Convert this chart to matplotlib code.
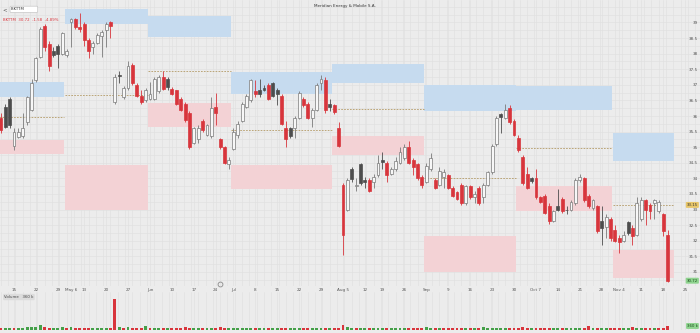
import matplotlib.pyplot as plt
import matplotlib.transforms as mtransforms
from matplotlib.ticker import MultipleLocator
import numpy as np
import pandas as pd

# sessions missing from the feed
missing_days = ['2024-05-01', '2024-05-03', '2024-05-09', '2024-05-10',
                '2024-06-28', '2024-08-15', '2024-10-31']

# daily OHLC, 2024-04-10 .. 2024-11-19
opens = [35.95, 36.30, 36.55, 35.05, 35.34, 35.35, 35.80, 36.20, 37.15, 37.90, 38.90, 38.30, 38.10, 38.25, 38.00,
         37.95, 39.00, 39.10, 38.85, 38.95, 38.45, 38.20, 38.35, 38.55, 38.75, 39.00, 36.45, 37.32, 36.60, 36.90,
         37.65, 37.00, 36.65, 36.50,
         36.55, 36.55, 36.80, 37.25, 37.20, 36.88, 36.82, 36.55, 36.40, 36.10, 35.15, 35.25, 35.85, 35.40, 35.35,
         36.30, 35.25, 35.00, 34.45,
         34.95, 35.40, 35.85, 36.30, 36.50, 36.80, 36.85, 36.90, 37.00, 37.05, 36.85, 36.65, 35.60, 35.60, 35.60,
         35.95, 36.55, 36.40, 35.95, 36.20, 37.05, 37.15, 36.40,
         36.35, 35.60, 33.80, 33.00, 34.30, 33.75, 34.45, 33.95, 33.95, 33.90, 34.10, 34.60, 34.50, 34.15, 34.30,
         34.50, 34.65, 35.00, 34.60, 34.45, 34.05,
         33.90, 34.30, 33.95, 33.80, 34.05, 34.10, 33.70, 33.55, 33.80, 33.20, 33.75, 33.40, 33.70, 33.40, 33.80,
         34.20, 35.10, 36.05, 35.95, 36.25, 35.85,
         35.30, 34.70, 34.15, 34.00, 34.00, 33.40, 33.45, 33.10, 32.65, 33.10, 33.35, 33.00, 33.00, 33.20, 33.95,
         34.00, 33.45, 33.05, 33.10, 32.65, 32.45, 32.70,
         32.35, 32.10, 32.00, 32.60, 32.40, 32.20, 32.70, 33.30, 33.15, 33.20, 32.95, 32.85, 32.20]
highs = [36.10, 36.40, 36.60, 35.60, 35.60, 36.10, 36.65, 37.20, 37.90, 38.85, 38.95, 38.40, 38.20, 38.30, 38.70,
         38.15, 39.15, 39.15, 39.30, 39.00, 38.50, 38.40, 38.65, 38.75, 39.00, 39.05, 37.35, 37.45, 36.95, 37.75,
         37.70, 37.05, 36.85, 36.90,
         37.10, 37.25, 37.30, 37.45, 37.25, 36.92, 36.85, 36.60, 36.45, 36.15, 35.65, 35.70, 35.90, 35.75, 36.60,
         36.75, 35.30, 35.05, 34.70,
         35.60, 35.85, 36.45, 36.70, 37.20, 37.15, 37.20, 37.00, 37.05, 37.10, 36.90, 36.70, 35.85, 35.65, 36.00,
         36.80, 36.60, 36.45, 36.25, 37.05, 37.30, 37.25, 36.55,
         36.40, 35.80, 33.85, 34.00, 34.35, 34.00, 34.50, 34.05, 34.00, 34.15, 34.75, 34.85, 34.55, 34.35, 34.70,
         35.00, 35.10, 35.20, 34.65, 34.50, 34.10,
         34.50, 34.80, 34.00, 34.35, 34.30, 34.15, 33.75, 33.60, 33.85, 33.80, 33.80, 33.60, 33.75, 33.85, 34.25,
         35.10, 36.00, 36.10, 36.40, 36.35, 35.90,
         35.40, 34.75, 34.35, 34.05, 34.30, 33.45, 33.50, 33.20, 33.00, 33.65, 33.40, 33.10, 33.30, 34.00, 34.15,
         34.05, 33.50, 33.35, 33.15, 33.10, 32.85, 32.75,
         32.50, 32.20, 32.30, 32.65, 32.50, 33.40, 33.40, 33.35, 33.20, 33.35, 33.30, 32.90, 32.35]
lows = [35.45, 35.60, 35.60, 34.90, 35.30, 35.30, 35.70, 36.15, 37.10, 37.85, 38.10, 37.45, 37.90, 37.55, 37.95,
        37.90, 38.20, 38.80, 38.68, 38.25, 37.85, 38.00, 38.30, 37.90, 38.20, 38.50, 36.40, 37.05, 36.55, 36.85,
        37.00, 36.60, 36.40, 36.45,
        36.50, 36.50, 36.75, 36.85, 36.85, 36.68, 36.35, 36.15, 35.80, 34.95, 35.10, 35.15, 35.50, 35.35, 35.30,
        35.70, 34.95, 34.45, 34.30,
        34.90, 35.30, 35.80, 36.25, 36.45, 36.60, 36.62, 36.80, 36.50, 36.60, 36.35, 35.70, 35.00, 35.30, 35.30,
        35.90, 36.30, 35.90, 35.65, 36.15, 36.85, 36.10, 36.15,
        36.05, 35.00, 31.55, 32.95, 33.90, 33.60, 33.80, 33.70, 33.55, 33.70, 34.05, 34.30, 33.90, 34.10, 34.25,
        34.45, 34.60, 34.45, 34.10, 33.95, 33.70,
        33.85, 34.25, 33.65, 33.75, 33.70, 33.65, 33.40, 33.30, 33.15, 33.15, 33.35, 33.20, 33.15, 33.20, 33.75,
        34.15, 35.05, 35.45, 35.90, 35.75, 35.35,
        34.85, 33.80, 33.65, 33.85, 33.35, 33.20, 32.85, 32.55, 32.60, 32.95, 32.90, 32.85, 32.95, 33.15, 33.90,
        33.25, 33.05, 33.00, 32.25, 31.85, 32.10, 32.00,
        31.95, 31.60, 31.95, 32.20, 31.85, 32.15, 32.65, 32.50, 32.70, 32.70, 32.90, 32.15, 30.68]
closes = [35.55, 35.65, 35.70, 35.50, 35.50, 35.60, 36.60, 37.05, 37.85, 38.80, 38.20, 37.60, 37.95, 38.00, 38.65,
          38.10, 39.10, 38.85, 38.80, 38.45, 38.10, 38.35, 38.60, 38.70, 38.95, 38.88, 37.25, 37.27, 36.90, 37.60,
          37.05, 36.65, 36.45, 36.85,
          36.70, 37.20, 37.25, 36.88, 36.92, 36.72, 36.40, 36.20, 35.87, 35.00, 35.60, 35.60, 35.55, 35.70, 36.25,
          36.10, 35.00, 34.50, 34.60,
          35.50, 35.75, 36.40, 36.65, 37.15, 36.70, 36.72, 36.85, 36.55, 36.65, 36.70, 35.75, 35.25, 35.35, 35.95,
          36.75, 36.35, 35.95, 36.20, 37.00, 37.20, 36.20, 36.30,
          36.12, 35.05, 32.20, 33.95, 33.98, 33.80, 33.85, 33.90, 33.60, 34.05, 34.50, 34.52, 34.10, 34.30, 34.55,
          34.85, 35.00, 34.50, 34.35, 34.00, 33.80,
          34.40, 34.65, 33.70, 34.25, 34.20, 33.70, 33.45, 33.35, 33.20, 33.75, 33.40, 33.50, 33.20, 33.80, 34.20,
          35.05, 35.95, 35.98, 36.20, 35.80, 35.40,
          34.90, 33.85, 33.70, 33.92, 33.40, 33.25, 32.90, 32.65, 32.95, 33.00, 32.95, 32.98, 33.25, 33.95, 34.05,
          33.30, 33.10, 33.30, 32.30, 32.40, 32.75, 32.10,
          32.00, 31.95, 32.20, 32.25, 32.15, 33.20, 33.30, 33.00, 32.95, 33.30, 33.25, 32.30, 30.72]
volumes = [180, 150, 210, 160, 140, 170, 230, 260, 300, 420, 250, 190, 150, 170, 230,
           160, 240, 150, 170, 200, 160, 140, 150, 170, 180, 150, 2800, 260, 180, 230, 200, 170, 150, 380,
           160, 190, 150, 170, 160, 180, 200, 190, 230, 170, 160, 150, 180, 190, 200, 210, 250, 190, 170,
           180, 160, 170, 190, 150, 160, 140, 170, 160, 150, 180, 200, 190, 160, 150, 170, 180, 160, 150, 170,
           200, 190, 180,
           170, 200, 420, 260, 210, 180, 170, 160, 150, 170, 160, 150, 170, 180, 160, 150, 170, 190, 180, 170, 160,
           260, 190, 180, 170, 160, 180, 170, 190, 160, 150, 170, 180, 200, 240, 210, 190, 180, 170, 180, 160, 170,
           190, 230, 200, 170, 210, 180, 190, 200, 180, 170, 160, 180, 190, 170, 160, 200, 350, 190, 180, 210, 190,
           200,
           180, 200, 190, 170, 230, 190, 210, 180, 170, 190, 180, 200, 360]  # thousands

# monthly zones: resistance (blue), support (pink), pivot (dashed)
zone_months = ['2024-04', '2024-05', '2024-06', '2024-07', '2024-08', '2024-09', '2024-10', '2024-11']
res_lo = [36.61, 38.95, 38.53, 36.71, 37.06, 36.16, 36.19, 34.56]
res_hi = [37.09, 39.43, 39.21, 37.41, 37.67, 36.99, 36.96, 35.46]
sup_lo = [34.78, 32.99, 35.65, 33.66, 34.75, 31.00, 32.96, 30.81]
sup_hi = [35.23, 34.43, 36.42, 34.43, 35.36, 32.15, 33.76, 31.71]
pivots = [35.97, 36.67, 37.44, 35.55, 36.22, 34.01, 34.97, 33.15]

tick_dates = ['2024-04-15', '2024-04-22', '2024-04-29', '2024-05-06', '2024-05-13', '2024-05-20', '2024-05-27',
              '2024-06-03', '2024-06-10', '2024-06-17', '2024-06-24', '2024-07-01', '2024-07-08', '2024-07-15',
              '2024-07-22', '2024-07-29', '2024-08-05', '2024-08-12', '2024-08-19', '2024-08-26', '2024-09-02',
              '2024-09-09', '2024-09-16', '2024-09-23', '2024-09-30', '2024-10-07', '2024-10-14', '2024-10-21',
              '2024-10-28', '2024-11-04', '2024-11-11', '2024-11-18', '2024-11-25']
tick_labels = ['15', '22', '29', 'May 6', '13', '20', '27', 'Jun', '10', '17', '24', 'Jul', '8', '15', '22', '29',
               'Aug 5', '12', '19', '26', 'Sep', '9', '16', '23', '30', 'Oct 7', '14', '21', '28', 'Nov 4', '11',
               '18', '25']
event_dates = ['2024-06-25']

title = 'Meridian Energy & Mobile S.A.'
ticker = 'BKTTM'

bg = '#ececec'
red = '#d8353c'
dark = '#4d4d4d'
hollow = '#7a7a7a'

days = pd.bdate_range('2024-04-10', '2024-11-29').drop(pd.to_datetime(missing_days))
n = len(closes)
x = np.arange(n)
o, h, l, c = map(np.asarray, (opens, highs, lows, closes))
prev = np.r_[o[0], c[:-1]]

faces, edges = [], []
for i in range(n):
    if c[i] >= o[i]:
        faces.append('#f7f7f7')
        edges.append(hollow)
    else:
        col = red if c[i] < prev[i] else dark
        faces.append(col)
        edges.append(col)

fig = plt.figure(figsize=(7, 3.33), dpi=100, facecolor=bg)
ax = fig.add_axes([0, 47 / 333, 1, 286 / 333], facecolor=bg)
vax = fig.add_axes([0, 3 / 333, 1, 38 / 333], facecolor=bg, sharex=ax)

# zones per month
months = days[:n].strftime('%Y-%m')
for k, m in enumerate(zone_months):
    idx = np.flatnonzero(months == m)
    x0 = idx[0] - 0.45
    x1 = idx[-1] + (1.45 if k == len(zone_months) - 1 else 0.45)
    ax.fill_between([x0, x1], res_lo[k], res_hi[k], color='#c6dbef', lw=0, zorder=1)
    ax.fill_between([x0, x1], sup_lo[k], sup_hi[k], color='#f3d2d5', lw=0, zorder=1)
    ax.hlines(pivots[k], x0, x1, color='#b39a66', lw=0.6, linestyles=(0, (2, 1.5)), zorder=1.5)

# candles
ax.vlines(x, l, h, colors=edges, lw=0.6, zorder=2)
ax.bar(x, np.maximum(np.abs(c - o), 0.02), bottom=np.minimum(o, c), width=0.66,
       color=faces, edgecolor=edges, linewidth=0.5, zorder=3)

# event marker near the date axis
ev = [days.get_loc(pd.Timestamp(d)) for d in event_dates]
ev_tr = mtransforms.blended_transform_factory(ax.transData, ax.transAxes)
ax.plot(ev, [0.008] * len(ev), 'o', ms=3.5, mfc='none', mec='#8a8a8a', mew=0.6,
        transform=ev_tr, clip_on=False, zorder=4)

# axes setup
ax.set_xlim(-0.19, 159.4)
ax.set_ylim(30.55, 39.72)
ticks = [days.get_loc(pd.Timestamp(d)) for d in tick_dates]
ax.set_xticks(ticks)
ax.set_xticklabels(tick_labels)
ax.xaxis.set_minor_locator(MultipleLocator(5 / 3))
ax.set_yticks(np.arange(31, 39.01, 0.5))
ax.set_yticklabels([f'{v:g}' for v in np.arange(31, 39.01, 0.5)])
ax.yaxis.set_minor_locator(MultipleLocator(0.25))
ax.yaxis.tick_right()
ax.tick_params(axis='x', length=0, labelsize=3, colors='#555555', pad=1.2)
ax.tick_params(axis='y', length=0, labelsize=3, colors='#555555', pad=-1.5)
ax.tick_params(which='minor', length=0)
for lab in ax.get_yticklabels():
    lab.set_ha('right')
ax.grid(True, which='both', color='#dfdfdf', lw=0.4, zorder=0)
ax.set_axisbelow(True)
for s in ax.spines.values():
    s.set_visible(False)

right = mtransforms.blended_transform_factory(ax.transAxes, ax.transData)
ax.text(0.997, pivots[-1], f'{pivots[-1]:.2f}', transform=right, ha='right', va='center',
        fontsize=2.8, color='#333333',
        bbox=dict(boxstyle='round,pad=0.25', fc='#e8c66a', ec='none'))
ax.text(0.997, c[-1], f'{c[-1]:.2f}', transform=right, ha='right', va='center',
        fontsize=2.8, color='#1d4d1d',
        bbox=dict(boxstyle='round,pad=0.25', fc='#8fd48f', ec='none'))

# volume pane, coloured against the previous close
vcol = ['#45a049' if c[i] >= prev[i] else red for i in range(n)]
vax.bar(x, volumes, width=0.66, color=vcol, lw=0, zorder=3)
vax.set_ylim(0, 3400)
vax.set_yticks([])
vax.tick_params(axis='x', which='both', length=0, labelbottom=False)
vax.grid(True, axis='x', which='both', color='#dfdfdf', lw=0.4, zorder=0)
for s in vax.spines.values():
    s.set_visible(False)
vtr = mtransforms.blended_transform_factory(vax.transAxes, vax.transData)
vax.text(0.997, volumes[-1], f'{volumes[-1]} k', transform=vtr, ha='right', va='center',
         fontsize=2.8, color='#1d4d1d',
         bbox=dict(boxstyle='round,pad=0.25', fc='#8fd48f', ec='none'))

# header texts
chg = c[-1] - c[-2]
fig.text(0.493, 0.988, title, ha='center', va='top', fontsize=3, color='#333333')
fig.text(0.004, 0.972, '<', ha='left', va='center', fontsize=4, color='#555555')
fig.text(0.016, 0.972, ticker + '          ', ha='left', va='center', fontsize=2.8, color='#333333',
         bbox=dict(boxstyle='round,pad=0.3', fc='white', ec='#bbbbbb', lw=0.4))
fig.text(0.004, 0.94, f'{ticker}  {c[-1]:.2f}  {chg:+.2f}  {chg / c[-2] * 100:+.2f}%',
         ha='left', va='center', fontsize=2.8, color=red)
fig.text(0.006, 0.108, f'Volume   {volumes[-1]} k', ha='left', va='center', fontsize=2.8, color='#444444',
         bbox=dict(boxstyle='round,pad=0.3', fc='#dcdcdc', ec='none'))

fig.savefig('out.png', dpi=100, facecolor=bg)
